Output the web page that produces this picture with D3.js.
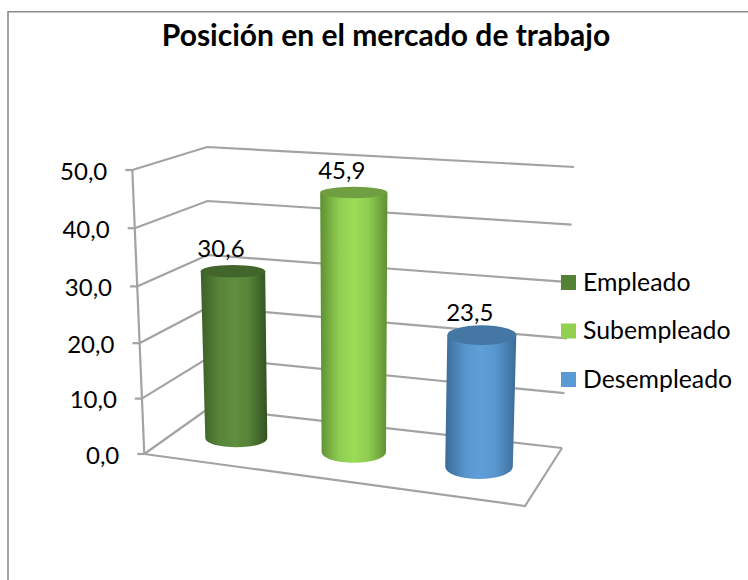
<!DOCTYPE html>
<html>
<head>
<meta charset="utf-8">
<script src="https://cdn.jsdelivr.net/npm/d3@7"></script>
<style>
  html, body { margin: 0; padding: 0; background: #fff; }
  svg { display: block; }
  text { font-family: Lato, "Open Sans", sans-serif; fill: #000; }
</style>
</head>
<body>
<svg width="748" height="580"></svg>
<script>
// data
var categories = ["Empleado", "Subempleado", "Desempleado"];
var values = [30.6, 45.9, 23.5];
var valueLabels = ["30,6", "45,9", "23,5"];
var tickValues = [0, 10, 20, 30, 40, 50];
var tickLabels = ["0,0", "10,0", "20,0", "30,0", "40,0", "50,0"];

var colors = d3.scaleOrdinal().domain(categories).range(["#548235", "#92d050", "#5b9bd5"]);
var edgeLeft = d3.scaleOrdinal().domain(categories).range(["#3c5f26", "#5f8f33", "#3b6b99"]);
var middle = d3.scaleOrdinal().domain(categories).range(["#5f8f3e", "#9bdc58", "#5f9fd9"]);
var edgeRight = d3.scaleOrdinal().domain(categories).range(["#335221", "#5f8f33", "#3b6b99"]);
var lid = d3.scaleOrdinal().domain(categories).range(["#41652a", "#6f9f40", "#4577a5"]);

var svg = d3.select("svg");

// outer frame, only top and left are visible
svg.append("path")
    .attr("d", "M8,580V11.7H748")
    .attr("fill", "none")
    .attr("stroke", "#8c8c8c")
    .attr("stroke-width", 1.6);

svg.append("text")
    .attr("x", 386)
    .attr("y", 46)
    .attr("text-anchor", "middle")
    .style("font-size", "30px")
    .style("font-weight", "bold")
    .text("Posición en el mercado de trabajo");

// the three corners of the walls, each one has its own scale because of the perspective
var yDomain = [0, 25, 50];
var frontY = d3.scaleLinear().domain(yDomain).range([454, 315.5, 170]);
var frontX = d3.scaleLinear().domain(yDomain).range([144.3, 138.2, 132.3]);
var backLeftY = d3.scaleLinear().domain(yDomain).range([408, 282, 147]);
var backLeftX = d3.scaleLinear().domain(yDomain).range([209, 208, 207]);
var backRightY = d3.scaleLinear().domain(yDomain).range([448, 311, 167]);
var backRightX = d3.scaleLinear().domain(yDomain).range([562, 568, 574]);

var walls = svg.append("g").attr("fill", "none").attr("stroke", "#a3a3a3").attr("stroke-width", 2.2);

walls.selectAll("path.grid")
    .data(tickValues)
    .enter()
    .append("path")
        .attr("class", "grid")
        .attr("d", function(d) {
            return "M" + frontX(d) + "," + frontY(d) +
                   "L" + backLeftX(d) + "," + backLeftY(d) +
                   "L" + backRightX(d) + "," + backRightY(d);
        });

// vertical axis
walls.append("line")
    .attr("x1", frontX(0)).attr("y1", frontY(0))
    .attr("x2", frontX(50)).attr("y2", frontY(50));

walls.selectAll("line.tick")
    .data(tickValues)
    .enter()
    .append("line")
        .attr("class", "tick")
        .attr("x1", function(d) { return frontX(d) - 7; })
        .attr("x2", function(d) { return frontX(d); })
        .attr("y1", function(d) { return frontY(d); })
        .attr("y2", function(d) { return frontY(d); });

// floor
walls.append("path")
    .attr("d", "M" + frontX(0) + "," + frontY(0) + "L525,506L" + backRightX(0) + "," + backRightY(0));

svg.selectAll("text.ytick")
    .data(tickValues)
    .enter()
    .append("text")
        .attr("class", "ytick")
        .attr("x", function(d) { return frontX(d) - 25; })
        .attr("y", function(d) { return frontY(d) + 9.5; })
        .attr("text-anchor", "end")
        .style("font-size", "24px")
        .text(function(d, i) { return tickLabels[i]; });

// cylinders
var baseX = d3.scaleOrdinal().domain(categories).range([236.3, 353.8, 479]);
var baseY = d3.scaleOrdinal().domain(categories).range([438.3, 452.3, 466.7]);
var unit = d3.scaleOrdinal().domain(categories).range([5.46, 5.66, 5.6]);
var baseRx = d3.scaleOrdinal().domain(categories).range([31, 32.2, 33.8]);
var baseRy = d3.scaleOrdinal().domain(categories).range([9, 10.4, 12.3]);
var topRx = d3.scaleOrdinal().domain(categories).range([32.2, 33.6, 34.5]);
var topRy = d3.scaleOrdinal().domain(categories).range([6.3, 5.7, 9.8]);

function topY(d, i) { return baseY(d) - unit(d) * values[i]; }
function topX(d, i) { return baseX(d) + (baseX(d) - 353.8) * 0.00017 * unit(d) * values[i]; }

var defs = svg.append("defs");
var grads = defs.selectAll("linearGradient")
    .data(categories)
    .enter()
    .append("linearGradient")
        .attr("id", function(d, i) { return "cyl" + i; })
        .attr("x1", 0).attr("x2", 1).attr("y1", 0).attr("y2", 0);
grads.append("stop").attr("offset", "0%").attr("stop-color", edgeLeft);
grads.append("stop").attr("offset", "28%").attr("stop-color", function(d) { return d3.interpolateRgb(edgeLeft(d), middle(d))(0.8); });
grads.append("stop").attr("offset", "50%").attr("stop-color", middle);
grads.append("stop").attr("offset", "72%").attr("stop-color", function(d) { return d3.interpolateRgb(edgeRight(d), middle(d))(0.8); });
grads.append("stop").attr("offset", "100%").attr("stop-color", edgeRight);

var bars = svg.selectAll("g.bar")
    .data(categories)
    .enter()
    .append("g")
        .attr("class", "bar");

bars.append("path")
    .attr("fill", function(d, i) { return "url(#cyl" + i + ")"; })
    .attr("d", function(d, i) {
        var tx = topX(d, i), ty = topY(d, i);
        return "M" + (tx - topRx(d)) + "," + ty +
               "L" + (baseX(d) - baseRx(d)) + "," + baseY(d) +
               "A" + baseRx(d) + "," + baseRy(d) + " 0 0 0 " + (baseX(d) + baseRx(d)) + "," + baseY(d) +
               "L" + (tx + topRx(d)) + "," + ty + "Z";
    });

bars.append("ellipse")
    .attr("cx", topX)
    .attr("cy", topY)
    .attr("rx", function(d) { return topRx(d); })
    .attr("ry", function(d) { return topRy(d); })
    .attr("fill", function(d) { return lid(d); });

bars.append("text")
    .attr("x", function(d, i) { return topX(d, i) - 12; })
    .attr("y", function(d, i) { return topY(d, i) - 14; })
    .attr("text-anchor", "middle")
    .style("font-size", "24px")
    .text(function(d, i) { return valueLabels[i]; });

// legend
var legendY = d3.scaleLinear().domain([0, 2]).range([282.5, 379.5]);
var legend = svg.selectAll("g.legend")
    .data(categories)
    .enter()
    .append("g")
        .attr("class", "legend")
        .attr("transform", function(d, i) { return "translate(561," + legendY(i) + ")"; });

legend.append("rect")
    .attr("x", 0).attr("y", -7.5)
    .attr("width", 15).attr("height", 15)
    .attr("fill", function(d) { return colors(d); });

legend.append("text")
    .attr("x", 22)
    .attr("y", 8)
    .style("font-size", "24.8px")
    .text(function(d) { return d; });
</script>
</body>
</html>
